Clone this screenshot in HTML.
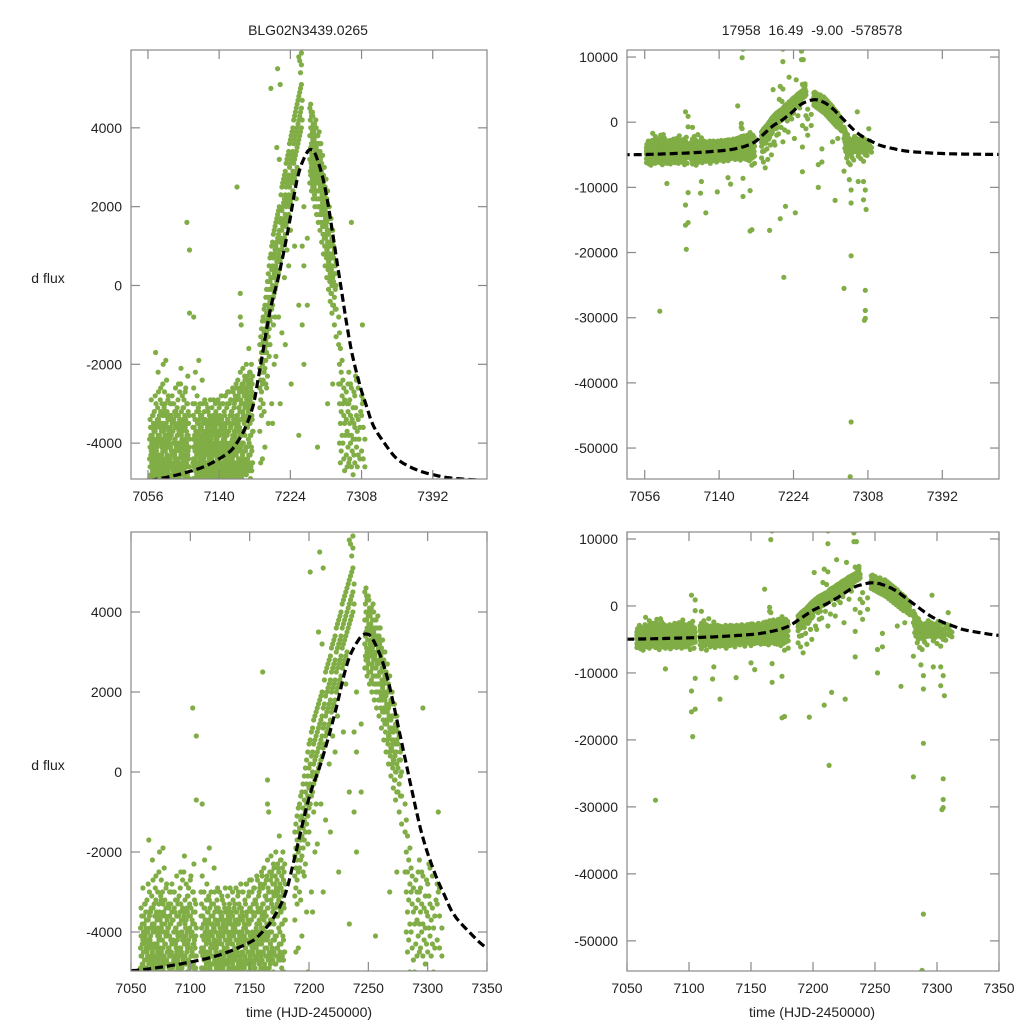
<!DOCTYPE html>
<html><head><meta charset="utf-8">
<style>
html,body{margin:0;padding:0;background:#fff;width:1024px;height:1024px;overflow:hidden;}
svg{display:block;font-family:"Liberation Sans",Arial,sans-serif;}
</style></head>
<body>
<svg id="chart" width="1024" height="1024" viewBox="0 0 1024 1024" xmlns="http://www.w3.org/2000/svg">
<rect x="0" y="0" width="1024" height="1024" fill="#fff"/>
<text x="308" y="35" font-size="14" text-anchor="middle" fill="#222">BLG02N3439.0265</text>
<text x="812" y="35" font-size="14" text-anchor="middle" fill="#222" xml:space="preserve">17958  16.49  -9.00  -578578</text>
<text x="48" y="283" font-size="14" text-anchor="middle" fill="#222">d flux</text>
<text x="48" y="770" font-size="14" text-anchor="middle" fill="#222">d flux</text>
<text x="309" y="1017" font-size="14" text-anchor="middle" fill="#222">time (HJD-2450000)</text>
<text x="812" y="1017" font-size="14" text-anchor="middle" fill="#222">time (HJD-2450000)</text>
</svg>
<script>
// flux values are in thousands (kilo-flux); each night: [time, flux, flux, ...]
const seasonA=[
[7058,-5.6,-4.9,-4.4,-6.2,-3.9],[7059,-5.1,-4.6,-5.8,-3.6],[7060,-6.0,-4.8,-4.2,-5.3,-2.9,-5.0],[7061,-4.5,-5.5,-3.8,-6.4],
[7062,-5.2,-4.1,-4.7,-5.9,-3.3],[7063,-4.9,-5.7,-4.3,-3.7,-6.6],[7064,-5.4,-4.0,-4.6,-5.0],[7065,-6.1,-4.4,-3.5,-5.3,-4.8,-1.7],
[7066,-5.0,-4.2,-5.6,-3.9],[7067,-4.7,-5.9,-3.4,-4.3,-5.2],[7068,-5.5,-4.5,-6.3,-3.8,-2.2],[7069,-4.8,-5.1,-4.0,-5.7],
[7070,-5.3,-4.6,-3.6,-6.0,-4.9],[7071,-4.4,-5.8,-3.2,-5.0,-2.6],[7072,-5.6,-4.3,-4.9,-3.7],[7073,-6.2,-4.7,-5.2,-3.9,-29.0],
[7074,-5.0,-4.1,-5.5,-3.5,-2.0],[7075,-4.6,-5.9,-4.2,-5.1,-3.1],[7076,-5.3,-4.8,-3.8,-6.5],[7077,-4.9,-5.6,-4.4,-3.3,-1.9],
[7078,-5.7,-4.0,-5.0,-4.6,-2.4],[7079,-4.3,-5.4,-3.6,-6.1],[7080,-5.1,-4.7,-4.1,-5.8,-2.8],[7081,-4.8,-5.5,-3.9,-9.4,-6.3],
[7082,-5.4,-4.4,-4.9,-3.4],[7083,-6.0,-4.6,-5.2,-3.8],[7084,-4.5,-5.7,-4.2,-5.0,-3.0],[7085,-5.2,-4.9,-6.4,-3.7],
[7086,-4.7,-5.3,-4.0,-5.8],[7087,-5.5,-4.3,-3.5,-6.1,-4.8],[7088,-4.4,-5.0,-3.9,-5.6],[7089,-5.8,-4.6,-4.2,-3.2],
[7090,-5.0,-4.1,-5.4,-3.6,-6.2],[7091,-4.6,-5.7,-3.8,-4.9],[7092,-5.3,-4.4,-6.0,-3.3,-2.5],[7093,-4.9,-5.5,-4.0,-3.7],
[7094,-5.6,-4.2,-4.7,-6.3],[7095,-4.3,-5.1,-3.5,-5.8,-2.1],[7096,-5.4,-4.8,-4.1,-3.9],[7097,-6.1,-4.5,-5.0,-3.4],
[7098,-4.7,-5.6,-4.3,-3.1,-5.2],[7099,-5.2,-4.0,-4.8,-6.0],[7100,-4.4,-5.3,-3.6,-5.7,-2.7],[7101,-5.7,-4.6,-4.1,-6.5],
[7102,-4.8,-5.2,-3.8,1.6,-15.8,-12.7,-3.0],[7103,-5.5,-4.3,-19.5,-4.9,-2.3],[7104,-6.3,-5.0,-4.4,-3.5],[7105,-4.6,0.9,-0.7,-10.8,-15.4,-5.4,-3.9]
];
const extraA=[
[7058.5,-4.6,-4.1,-3.4,-5.0],[7059.5,-4.3,-3.8,-4.8,-5.4],[7060.5,-4.0,-4.5,-3.6,-5.1],[7061.5,-4.7,-4.2,-3.3,-4.9],[7062.5,-3.9,-4.4,-4.9,-3.5],
[7063.5,-4.5,-4.0,-3.2,-5.2],[7064.5,-4.2,-3.7,-4.7,-2.8],[7065.5,-4.8,-4.3,-3.6,-3.0],[7066.5,-4.1,-3.5,-4.6,-5.3],[7067.5,-4.4,-3.9,-4.9,-3.1],
[7068.5,-4.0,-4.6,-3.4,-2.7],[7069.5,-4.7,-3.8,-4.3,-3.3],[7070.5,-4.3,-3.9,-4.8,-2.9],[7071.5,-4.6,-4.0,-3.5,-5.1],[7072.5,-4.1,-3.6,-4.5,-3.0],
[7073.5,-4.8,-4.2,-3.3,-2.5],[7074.5,-4.0,-4.4,-3.7,-4.9],[7075.5,-4.5,-3.9,-3.2,-2.7],[7076.5,-4.2,-4.7,-3.6,-3.0],[7077.5,-4.6,-4.0,-3.5,-5.0],
[7078.5,-4.3,-3.8,-4.8,-3.2],[7079.5,-4.7,-4.1,-3.4,-2.9],[7080.5,-4.0,-4.5,-3.7,-5.2],[7081.5,-4.4,-3.9,-3.3,-4.8],[7082.5,-4.1,-4.6,-3.6,-3.0],
[7083.5,-4.5,-3.8,-4.2,-3.3],[7084.5,-4.8,-4.3,-3.5,-2.8],[7085.5,-4.2,-3.7,-4.6,-5.1],[7086.5,-4.6,-4.0,-3.4,-3.0],[7087.5,-4.3,-3.9,-4.7,-3.2],
[7088.5,-4.0,-4.5,-3.6,-2.6],[7089.5,-4.7,-4.1,-3.3,-4.9],[7090.5,-4.4,-3.8,-4.8,-3.1],[7091.5,-4.1,-4.6,-3.5,-2.9],[7092.5,-4.5,-4.0,-3.7,-5.0],
[7093.5,-4.8,-4.2,-3.4,-2.7],[7094.5,-4.2,-3.6,-4.6,-2.5],[7095.5,-4.6,-4.1,-3.2,-3.8],[7096.5,-4.3,-3.7,-4.8,-2.8],[7097.5,-4.0,-4.4,-3.5,-3.1],
[7098.5,-4.7,-4.2,-3.6,-2.9],[7099.5,-4.4,-3.9,-4.9,-3.3],[7100.5,-4.1,-4.6,-3.4,-2.6],[7101.5,-4.5,-4.0,-3.7,-5.2],[7102.5,-4.8,-4.3,-3.5,-3.0],
[7103.5,-4.2,-3.8,-4.6,-3.2],[7104.5,-4.6,-4.1,-3.3,-4.9]
];
const seasonB=[
[7109,-5.8,-4.5,-3.6,-5.1,-3.0],[7110,-4.9,-5.4,-4.1,-0.8,-6.4,-2.6],[7111,-5.3,-4.4,-3.8,-6.0],[7112,-4.7,-5.6,-3.4,-4.9,-2.2],
[7113,-5.9,-4.2,-5.0,-3.7],[7114,-4.5,-5.2,-3.9,-6.6,-2.8],[7115,-5.0,-4.7,-3.5,-5.7],[7116,-5.6,-4.1,-4.8,-3.2,-1.9],
[7117,-4.4,-5.3,-3.8,-6.1],[7118,-5.2,-4.6,-4.0,-3.3],[7119,-4.8,-5.8,-3.6,-10.9,-4.3],[7120,-5.4,-4.2,-9.1,-3.9,-2.4],
[7121,-4.6,-5.0,-3.7,-6.2],[7122,-5.7,-4.4,-4.9,-3.4],[7123,-4.3,-5.5,-3.8,-5.9,-2.9],[7124,-5.1,-4.8,-3.5,-4.1],
[7125,-4.7,-5.6,-13.9,-3.9,-6.0],[7126,-5.3,-4.3,-3.6,-4.9],[7127,-4.5,-5.9,-4.1,-3.2],[7128,-5.0,-4.6,-3.7,-5.4],
[7129,-5.6,-4.0,-4.8,-3.4],[7130,-4.8,-5.2,-3.9,-6.3],[7131,-5.4,-4.4,-3.5,-4.7],[7132,-4.2,-5.7,-4.0,-3.6],
[7133,-5.1,-4.6,-3.3,-5.9],[7134,-4.7,-5.3,-4.1,-3.8],[7135,-5.8,-4.3,-3.6,-4.9],[7136,-4.5,-5.0,-3.9,-3.2],
[7137,-5.2,-4.7,-3.4,-6.1],[7138,-4.9,-5.5,-10.7,-4.0,-3.7],[7139,-5.6,-4.2,-3.5,-4.6],[7140,-4.4,-5.1,-3.8,-3.1],
[7141,-5.3,-4.8,-3.3,-5.8],[7142,-4.6,-5.4,-4.0,-3.6],[7143,-5.0,-4.1,-3.4,-4.9],[7144,-5.7,-4.5,-3.7,-3.0],
[7145,-4.3,-5.2,-3.9,-6.0],[7146,-5.1,-4.6,-3.2,-4.2],[7147,-4.8,-5.5,-3.6,-2.8],[7148,-5.4,-4.0,-3.5,-4.7],
[7149,-4.5,-5.0,-3.1,-3.8],[7150,-5.9,-4.3,-8.5,-3.4,-2.7],[7151,-4.7,-5.3,-3.7,-4.1],[7152,-5.2,-4.4,-3.0,-3.5],
[7153,-4.4,-5.6,-9.5,-3.3,-4.8],[7154,-5.0,-4.2,-3.6,-2.9],[7155,-5.5,-4.7,-3.2,-4.0],[7156,-4.6,-5.1,-3.8,-2.6],
[7157,-5.3,-4.3,-3.4,-4.5],[7158,-4.8,-5.7,-3.0,-3.7],[7159,-5.1,-4.5,-3.5,-2.8],[7160,-4.3,-5.4,-3.9,-2.5,-4.7],
[7161,-5.6,-4.1,-3.3,2.5,-2.9],[7162,-4.9,-5.2,-3.7,-2.4],[7163,-5.3,-4.4,-3.1,-4.0],[7164,-4.6,-5.8,-3.6,-2.7],
[7165,-5.0,-4.2,-0.2,-0.8,-3.4,-2.2],[7166,-5.5,-4.6,-1.0,-3.0,9.9],[7167,-4.7,-5.3,11.2,-8.6,-11.4,-3.8,-2.5],[7168,-5.2,-4.0,-3.2,-2.1],
[7169,-4.4,-5.6,-3.7,-2.6,-3.0],[7170,-5.0,-4.5,-3.4,-2.3],[7171,-5.7,-4.2,-3.0,-2.8],[7172,-4.8,-5.1,-3.6,-2.0],
[7173,-5.3,-4.4,-2.7,-3.3],[7174,-4.6,-5.9,-3.1,-2.4],[7175,-5.1,-4.3,-10.5,-16.7,-1.6,-2.9],[7176,-5.6,-4.7,-3.5,-2.2],
[7177,-4.9,-16.5,-3.8,-2.6,-6.6],[7178,-5.4,-4.1,-3.0,-2.0],[7179,-4.5,-5.0,-3.4,-2.5],[7180,-5.2,-6.3,-3.7,-2.8]
];
const extraB=[
[7109.5,-4.4,-3.9,-4.9,-3.3],[7110.5,-4.1,-4.6,-3.6,-5.1],[7111.5,-4.7,-4.2,-3.4,-3.0],[7112.5,-4.0,-4.5,-3.7,-4.9],[7113.5,-4.3,-3.8,-4.8,-3.2],
[7114.5,-4.6,-4.1,-3.5,-5.2],[7115.5,-4.2,-3.7,-4.7,-3.1],[7116.5,-4.5,-4.0,-3.4,-4.9],[7117.5,-4.8,-4.3,-3.6,-3.0],[7118.5,-4.1,-4.6,-3.8,-5.0],
[7119.5,-4.4,-3.9,-3.3,-4.8],[7120.5,-4.7,-4.2,-3.5,-3.0],[7121.5,-4.0,-4.5,-3.7,-5.1],[7122.5,-4.3,-3.8,-4.8,-3.2],[7123.5,-4.6,-4.1,-3.4,-4.9],
[7124.5,-4.2,-3.7,-4.7,-3.0],[7125.5,-4.5,-4.0,-3.5,-5.0],[7126.5,-4.8,-4.3,-3.6,-3.1],[7127.5,-4.1,-4.6,-3.8,-4.9],[7128.5,-4.4,-3.9,-3.3,-4.7],
[7129.5,-4.7,-4.2,-3.5,-2.9],[7130.5,-4.0,-4.5,-3.7,-5.0],[7131.5,-4.3,-3.8,-4.8,-3.1],[7132.5,-4.6,-4.1,-3.4,-4.9],[7133.5,-4.2,-3.7,-4.7,-2.9],
[7134.5,-4.5,-4.0,-3.5,-5.0],[7135.5,-4.8,-4.3,-3.6,-3.0],[7136.5,-4.1,-4.6,-3.8,-4.9],[7137.5,-4.4,-3.9,-3.3,-4.7],[7138.5,-4.7,-4.2,-3.5,-2.9],
[7139.5,-4.0,-4.5,-3.7,-5.0],[7140.5,-4.3,-3.8,-4.8,-3.0],[7141.5,-4.6,-4.1,-3.4,-4.9],[7142.5,-4.2,-3.7,-4.7,-2.8],[7143.5,-4.5,-4.0,-3.5,-5.0],
[7144.5,-4.8,-4.3,-3.6,-3.0],[7145.5,-4.1,-4.6,-3.8,-4.9],[7146.5,-4.4,-3.9,-3.3,-4.7],[7147.5,-4.7,-4.2,-3.5,-2.8],[7148.5,-4.0,-4.5,-3.7,-5.0],
[7149.5,-4.3,-3.8,-4.8,-3.0],[7150.5,-4.6,-4.1,-3.4,-4.9],[7151.5,-4.2,-3.7,-4.7,-2.7],[7152.5,-4.5,-4.0,-3.5,-5.0],[7153.5,-4.8,-4.3,-3.6,-2.9],
[7154.5,-4.1,-4.6,-3.2,-4.9],[7155.5,-4.4,-3.9,-3.3,-4.7],[7156.5,-4.7,-4.2,-3.5,-2.7],[7157.5,-4.0,-4.5,-3.1,-5.0],[7158.5,-4.3,-3.8,-4.8,-2.9],
[7159.5,-4.6,-4.1,-3.4,-4.9],[7160.5,-4.2,-3.6,-4.7,-2.6],[7161.5,-4.5,-3.9,-3.3,-5.0],[7162.5,-4.8,-4.2,-3.5,-2.8],[7163.5,-4.1,-4.6,-3.1,-4.9],
[7164.5,-4.4,-3.8,-3.2,-2.6],[7165.5,-4.7,-4.1,-3.4,-2.9],[7166.5,-4.0,-4.5,-3.0,-4.9],[7167.5,-4.3,-3.7,-4.8,-2.7],[7168.5,-4.6,-4.0,-3.3,-2.5],
[7169.5,-4.2,-3.5,-4.7,-2.8],[7170.5,-4.5,-3.8,-3.1,-2.4],[7171.5,-4.8,-4.1,-3.4,-2.6],[7172.5,-4.1,-4.6,-2.9,-3.6],[7173.5,-4.4,-3.6,-3.0,-2.3],
[7174.5,-4.7,-3.9,-3.2,-2.5],[7175.5,-4.0,-4.5,-2.8,-3.4],[7176.5,-4.3,-3.5,-2.9,-2.2],[7177.5,-4.6,-3.8,-3.1,-2.4],[7178.5,-4.2,-4.7,-2.7,-3.3],
[7179.5,-4.5,-3.7,-3.0,-2.3]
];
const peakC=[
[7188,-2.6,-2.1,-3.1,-1.5,-3.7,-5.5],[7189,-2.4,-1.9,-2.9,-1.3,-4.5],[7190,-2.2,-1.7,-2.7,-1.1,-3.3,-6.1],[7191,-2.0,-1.5,-2.5,-0.9,-4.4],
[7192,-1.9,-1.4,-2.4,-0.8,-3.0,-7.0],[7193,-1.7,-1.2,-2.2,-0.6,-3.2],[7194,-1.6,-1.1,-2.1,-0.5,-4.1],[7195,-1.4,-0.9,-1.9,-0.3,-2.5,-5.7],
[7196,-1.2,-0.7,-1.7,-0.1,-2.6],[7197,-1.0,-0.5,-1.5,0.1,-16.6,-2.3],[7198,-0.8,-0.3,-1.3,0.3,-3.5],[7199,-0.6,-0.1,-1.1,0.5,-5.0,-1.8],
[7200,-0.4,0.1,-0.9,0.7,-1.5],[7201,-0.3,0.2,-0.8,5.0,0.8],[7202,-0.1,0.4,-0.6,1.0,-3.0],[7203,0.0,0.5,-0.5,1.1,-3.5],
[7204,0.2,0.7,-0.3,1.3,-1.0],[7205,0.3,0.8,-0.2,1.4,-2.0],[7206,0.4,0.9,-0.1,1.5,-0.8],[7207,0.5,1.0,0.0,1.6,-1.8],
[7208,0.6,1.1,0.1,1.7,3.5],[7209,0.7,1.2,0.2,5.5,-14.8,1.8],[7210,0.8,1.3,0.3,1.9,-0.8],[7211,0.9,1.4,0.4,2.0,3.2],
[7212,1.1,9.3,11.2,5.1,-3.0,0.6,1.6],[7213,1.2,-23.8,0.7,1.7,2.3],[7214,1.4,1.9,0.9,2.5,-1.2],[7215,1.5,-12.9,1.0,2.0,2.6],
[7216,1.6,1.1,2.1,2.7],[7217,1.7,1.2,2.2,0.2,2.8],[7218,1.8,1.3,2.3,-1.5,2.9],[7219,6.9,2.0,1.5,2.5,3.1],
[7220,2.1,1.6,2.6,0.9,3.2],[7221,2.2,1.7,2.7,3.3],[7222,2.3,1.8,2.8,0.5,3.4],[7223,2.5,2.0,3.0,3.6],
[7224,2.6,2.1,3.1,1.4,3.7],[7225,2.7,2.2,3.2,-2.5,3.8],[7226,2.8,2.3,-13.9,3.3,3.9],[7227,2.9,6.5,2.4,3.4,4.0],
[7228,3.1,2.6,3.6,4.2],[7229,3.2,2.7,3.7,1.0,4.3],[7230,3.3,2.8,3.8,4.4],[7231,3.4,2.9,3.9,4.5,2.2],
[7232,3.5,3.0,4.0,4.6],[7233,3.6,10.9,9.6,4.1,4.7],[7234,3.7,5.8,-7.6,-3.8,-0.5,4.2,4.8],[7235,3.8,9.6,5.7,4.3,4.9],
[7236,3.9,5.4,4.4,5.0],[7237,4.0,5.9,4.5,5.1,5.6],[7238,4.2,1.0,-1.0,4.7],[7240,2.0,-2.0,0.5],[7244,-0.5,1.2]
];
const declineD=[
[7247,3.8,4.5,3.2,2.6],[7248,4.0,3.5,2.8,4.6],[7249,3.6,4.3,3.0,2.4],[7250,3.9,3.3,2.7,4.4],
[7251,3.5,4.1,2.9,2.2],[7252,3.7,-10.0,-6.5,3.1,2.5],[7253,3.3,4.0,2.7,2.0],[7254,3.6,3.0,2.4,4.2],
[7255,3.2,3.8,2.6,1.8],[7256,3.4,-6.1,-4.1,2.8,2.2],[7257,3.0,3.6,2.4,1.6],[7258,3.3,2.7,2.0,3.9],
[7259,2.8,3.4,2.2,1.4],[7260,3.0,2.5,1.8,3.6],[7261,2.5,3.1,1.9,1.1],[7262,2.7,2.1,1.5,3.3],
[7263,2.2,2.8,1.6,0.8],[7264,2.4,1.8,1.2,3.0],[7265,1.9,2.5,1.3,0.5],[7266,2.0,1.5,0.8,2.7],
[7267,1.6,2.2,0.9,0.2],[7268,1.7,1.1,0.5,2.4,-3.0],[7269,1.3,1.8,0.6,-0.1],[7270,1.4,0.8,0.2,2.0],
[7271,1.0,-12.0,0.3,-0.4],[7272,1.1,0.5,-0.2,1.7],[7273,0.7,1.2,0.0,-0.7],[7274,0.8,0.2,-0.5,1.4,-2.5],
[7276,0.3,-0.3,-1.0,0.9],[7278,0.0,-0.6,-1.3,0.6],[7281,-1.5,-25.5,-7.5,-2.5,-0.8],[7282,-2.0,-3.0,-1.2,-4.0],
[7283,-2.5,-3.5,-4.5,-1.6],[7284,-2.2,-3.2,-4.2,-5.5],[7285,-2.8,-3.8,-1.9,-5.0],[7286,-3.0,-4.0,-2.4,-6.2],
[7287,-3.3,-8.8,-4.4,-2.6],[7288,-54.4,-3.5,-4.7,-2.9,-6.5],[7289,-46.0,-20.5,-12.4,-10.4,-3.8,-5.0],[7290,-3.4,-4.3,-2.7,-5.4],
[7291,-3.7,-4.6,-3.0],[7292,-3.2,-4.1,-2.5,-5.8],[7294,-3.5,-4.4,-2.9],[7296,1.6,-3.8,-4.6,-2.6],
[7297,-9.1,-3.4,-4.2,-5.2],[7298,-3.9,-4.8,-3.1],[7300,-3.6,-4.5,-2.8,-5.6],[7302,-3.3,-4.1,-2.4],
[7303,-9.1,-11.9,-3.7,-4.6,-6.0],[7304,-30.4,-3.4,-4.3,-2.6],[7305,-25.8,-28.9,-30.1,-10.4,-3.9,-5.0],[7306,-13.4,-3.6,-4.4],
[7307,-5.1,-3.2],[7309,-1.0,-3.0]
];
const extraD=[
[7247.5,4.2,3.4,2.9,3.8],[7248.5,3.8,3.1,4.4,2.6],[7249.5,4.0,3.3,2.8,3.6],[7250.5,3.7,3.0,4.3,2.5],[7251.5,3.9,3.2,2.7,3.5],
[7252.5,3.6,2.9,4.1,2.3],[7253.5,3.8,3.1,2.6,3.4],[7254.5,3.5,2.8,4.0,2.2],[7255.5,3.6,2.9,2.4,3.2],[7256.5,3.3,2.6,3.8,2.0],
[7257.5,3.4,2.7,2.2,3.0],[7258.5,3.1,2.4,3.6,1.8],[7259.5,3.2,2.5,2.0,2.8],[7260.5,2.9,2.2,3.3,1.6],[7261.5,3.0,2.3,1.8,2.6],
[7262.5,2.6,1.9,3.0,1.3],[7263.5,2.7,2.0,1.5,2.3],[7264.5,2.3,1.6,2.7,1.0],[7265.5,2.4,1.7,1.2,2.0],[7266.5,2.0,1.3,2.4,0.7],
[7267.5,2.1,1.4,0.9,1.7],[7268.5,1.7,1.0,2.0,0.4],[7269.5,1.8,1.1,0.6,1.4],[7270.5,1.4,0.7,1.7,0.1],[7271.5,1.4,0.8,0.3,1.1],
[7272.5,1.1,0.4,1.4,-0.2],[7273.5,1.1,0.5,0.0,0.8],[7275,0.7,0.1,1.0,-0.5],[7277,0.5,-0.1,-0.6,0.3],
[7293,-3.0,-3.8,-2.2,-4.5],[7295,-3.3,-2.5,-4.0],[7299,-3.5,-2.7,-4.3],[7301,-3.1,-2.3,-3.9],[7308,-3.3,-4.2,-2.8],[7310,-3.6,-4.4,-2.9],[7312,-3.9,-4.6]
];
const modelT=[7030,7050,7075,7100,7125,7150,7160,7170,7180,7187,7200,7210,7221,7232,7241,7248,7255,7266,7280,7294,7305,7314,7322,7335,7350,7370,7392,7420,7480];
const modelF=[-5.0,-4.97,-4.88,-4.75,-4.57,-4.26,-4.02,-3.65,-3.05,-2.25,-0.65,0.22,1.37,2.69,3.27,3.45,3.25,2.36,0.47,-1.42,-2.45,-3.07,-3.56,-4.0,-4.4,-4.65,-4.8,-4.9,-4.97];
const ticksTopX=[7056,7140,7224,7308,7392];
const ticksBotX=[7050,7100,7150,7200,7250,7300,7350];
const ticksSmallY=[-4000,-2000,0,2000,4000];
const ticksBigY=[-50000,-40000,-30000,-20000,-10000,0,10000];

const NS='http://www.w3.org/2000/svg';
const svg=document.getElementById('chart');
function mk(tag,attrs,parent){const e=document.createElementNS(NS,tag);for(const k in attrs)e.setAttribute(k,attrs[k]);(parent||svg).appendChild(e);return e;}

const panels=[
 {id:'top-left',box:[131,50,487,479],xr:[7036,7456],yr:[-4.91,5.975],xt:ticksTopX,yt:ticksSmallY},
 {id:'top-right',box:[627,50,999,479],xr:[7036,7456],yr:[-54.75,11.08],xt:ticksTopX,yt:ticksBigY},
 {id:'bottom-left',box:[131,532,487,971],xr:[7050,7350],yr:[-4.975,6.0],xt:ticksBotX,yt:ticksSmallY},
 {id:'bottom-right',box:[627,532,999,971],xr:[7050,7350],yr:[-54.5,11.04],xt:ticksBotX,yt:ticksBigY}
];

panels.forEach(p=>{
 const [x0,y0,x1,y1]=p.box;
 const sx=t=>x0+(t-p.xr[0])/(p.xr[1]-p.xr[0])*(x1-x0);
 const sy=f=>y1-(f-p.yr[0])/(p.yr[1]-p.yr[0])*(y1-y0);
 const g=mk('g',{});
 
 
 const cp=mk('clipPath',{id:'clip-'+p.id},g);
 mk('rect',{x:x0,y:y0,width:x1-x0,height:y1-y0},cp);
 const pts=mk('g',{'clip-path':'url(#clip-'+p.id+')',fill:'#80ad45'},g);
 
 
 [seasonA,extraA,seasonB,extraB,peakC,declineD,extraD].forEach(season=>{
  season.forEach(n=>{
   for(let i=1;i<n.length;i++){
    const c=mk('circle',{cx:sx(n[0]).toFixed(1),cy:sy(n[i]).toFixed(1),r:2.6},pts);
    
    
   }
  });
 });
 let d='';
 for(let i=0;i<modelT.length-1;i++){
  const a=Math.max(0,i-1),b=Math.min(modelT.length-1,i+2);
  const p0=[modelT[a],modelF[a]],p1=[modelT[i],modelF[i]],p2=[modelT[i+1],modelF[i+1]],p3=[modelT[b],modelF[b]];
  for(let s=0;s<=10;s++){
   const u=s/10,u2=u*u,u3=u2*u;
   const tt=0.5*((2*p1[0])+(-p0[0]+p2[0])*u+(2*p0[0]-5*p1[0]+4*p2[0]-p3[0])*u2+(-p0[0]+3*p1[0]-3*p2[0]+p3[0])*u3);
   const ff=0.5*((2*p1[1])+(-p0[1]+p2[1])*u+(2*p0[1]-5*p1[1]+4*p2[1]-p3[1])*u2+(-p0[1]+3*p1[1]-3*p2[1]+p3[1])*u3);
   d+=(d?'L':'M')+sx(tt).toFixed(1)+','+sy(ff).toFixed(1);
  }
 }
 const cl=mk('path',{d:d,fill:'none',stroke:'#000','stroke-width':3.2,'stroke-dasharray':'8,4','clip-path':'url(#clip-'+p.id+')'},g);
 
 
 const fr=mk('rect',{x:x0,y:y0,width:x1-x0,height:y1-y0,fill:'none',stroke:'#888','stroke-width':1.2},g);
 
 
 p.xt.forEach(v=>{
  const x=sx(v);
  mk('line',{x1:x,x2:x,y1:y1,y2:y1-9,stroke:'#888','stroke-width':1.2},g);
  mk('line',{x1:x,x2:x,y1:y0,y2:y0+9,stroke:'#888','stroke-width':1.2},g);
  const t=mk('text',{x:x,y:y1+22,'font-size':14,'text-anchor':'middle',fill:'#222'},g);
  t.textContent=v;
  
  
 });
 p.yt.forEach(v=>{
  const y=sy(v/1000);
  mk('line',{x1:x0,x2:x0+9,y1:y,y2:y,stroke:'#888','stroke-width':1.2},g);
  mk('line',{x1:x1,x2:x1-9,y1:y,y2:y,stroke:'#888','stroke-width':1.2},g);
  const t=mk('text',{x:x0-9,y:y+5,'font-size':14,'text-anchor':'end',fill:'#222'},g);
  t.textContent=v;
  
  
 });
});
</script>
</body></html>
